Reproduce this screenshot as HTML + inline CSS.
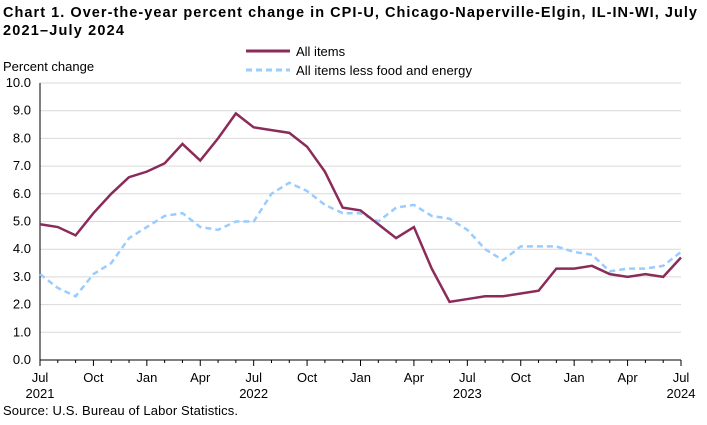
<!DOCTYPE html>
<html><head><meta charset="utf-8"><style>
body{margin:0;background:#fff;font-family:"Liberation Sans",Arial,sans-serif;}
</style></head><body>
<svg width="707" height="420" xmlns="http://www.w3.org/2000/svg" font-family="Liberation Sans, Arial, sans-serif">
<text x="3" y="17" font-size="14.5" font-weight="bold" textLength="694" lengthAdjust="spacing">Chart 1. Over-the-year percent change in CPI-U, Chicago-Naperville-Elgin,  IL-IN-WI, July</text>
<text x="3" y="35" font-size="14.5" font-weight="bold" textLength="121" lengthAdjust="spacing">2021–July 2024</text>
<text x="3" y="71" font-size="13">Percent change</text>
<g>
<line x1="246" y1="51" x2="290" y2="51" stroke="#8B2B5A" stroke-width="3"/>
<text x="296" y="56" font-size="13">All items</text>
<line x1="246" y1="70" x2="290" y2="70" stroke="#99CCFF" stroke-width="3" stroke-dasharray="6,4"/>
<text x="296" y="75" font-size="13" textLength="176" lengthAdjust="spacing">All items less food and energy</text>
</g>
<g id="grid"></g><g id="axes"></g><g id="series"></g>
<text x="3" y="415" font-size="13" textLength="235" lengthAdjust="spacing">Source: U.S. Bureau of Labor Statistics.</text>
</svg>
<script>
const allItems=[4.9,4.8,4.5,5.3,6.0,6.6,6.8,7.1,7.8,7.2,8.0,8.9,8.4,8.3,8.2,7.7,6.8,5.5,5.4,4.9,4.4,4.8,3.3,2.1,2.2,2.3,2.3,2.4,2.5,3.3,3.3,3.4,3.1,3.0,3.1,3.0,3.7];
const coreItems=[3.1,2.6,2.3,3.1,3.5,4.4,4.8,5.2,5.3,4.8,4.7,5.0,5.0,6.0,6.4,6.1,5.6,5.3,5.3,5.0,5.5,5.6,5.2,5.1,4.7,4.0,3.6,4.1,4.1,4.1,3.9,3.8,3.2,3.3,3.3,3.4,3.9];
const yTicks=[0,1,2,3,4,5,6,7,8,9,10];
const xTickIdx=[0,3,6,9,12,15,18,21,24,27,30,33,36];
const xTickLabels=["Jul","Oct","Jan","Apr","Jul","Oct","Jan","Apr","Jul","Oct","Jan","Apr","Jul"];
const yearLabels=[[0,"2021"],[12,"2022"],[24,"2023"],[36,"2024"]];
const NS="http://www.w3.org/2000/svg";
const X0=40,X1=681,Y0=360,Y1=83;
const x=i=>X0+(X1-X0)*i/36;
const y=v=>Y0-(Y0-Y1)*v/10;
function mk(t,a,p){const e=document.createElementNS(NS,t);for(const k in a)e.setAttribute(k,a[k]);p.appendChild(e);return e;}
const grid=document.getElementById('grid'),axes=document.getElementById('axes'),series=document.getElementById('series');
yTicks.forEach(v=>{
  if(v>0){const g=mk('line',{x1:X0,x2:X1,y1:y(v),y2:y(v),stroke:'#d9d9d9','stroke-width':1},grid);
  
  }
  const t=mk('text',{x:31,y:y(v)+4,'font-size':13,'text-anchor':'end'},axes);t.textContent=v.toFixed(1);
  
  
});
const ax=mk('line',{x1:X0,x2:X1,y1:Y0,y2:Y0,stroke:'#000','stroke-width':1},axes);


const ay=mk('line',{x1:X0,x2:X0,y1:Y1,y2:Y0,stroke:'#000','stroke-width':1},axes);


for(let i=0;i<=36;i++){const l=mk('line',{x1:x(i),x2:x(i),y1:Y0,y2:Y0+(xTickIdx.includes(i)?6:3),stroke:'#000'},axes);
  
  }
xTickIdx.forEach((idx,k)=>{const t=mk('text',{x:x(idx),y:382,'font-size':13,'text-anchor':'middle'},axes);t.textContent=xTickLabels[k];
  
  });
yearLabels.forEach(([idx,l])=>{const t=mk('text',{x:x(idx),y:398,'font-size':13,'text-anchor':'middle'},axes);t.textContent=l;
  
  });
function line(arr,attrs,name){const p=mk('polyline',Object.assign({points:arr.map((v,i)=>x(i)+','+y(v)).join(' '),fill:'none'},attrs),series);
  
  }
line(coreItems,{stroke:'#99CCFF','stroke-width':2.5,'stroke-dasharray':'6,4'},'core-line');
line(allItems,{stroke:'#8B2B5A','stroke-width':2.5},'all-items-line');
</script>
</body></html>
